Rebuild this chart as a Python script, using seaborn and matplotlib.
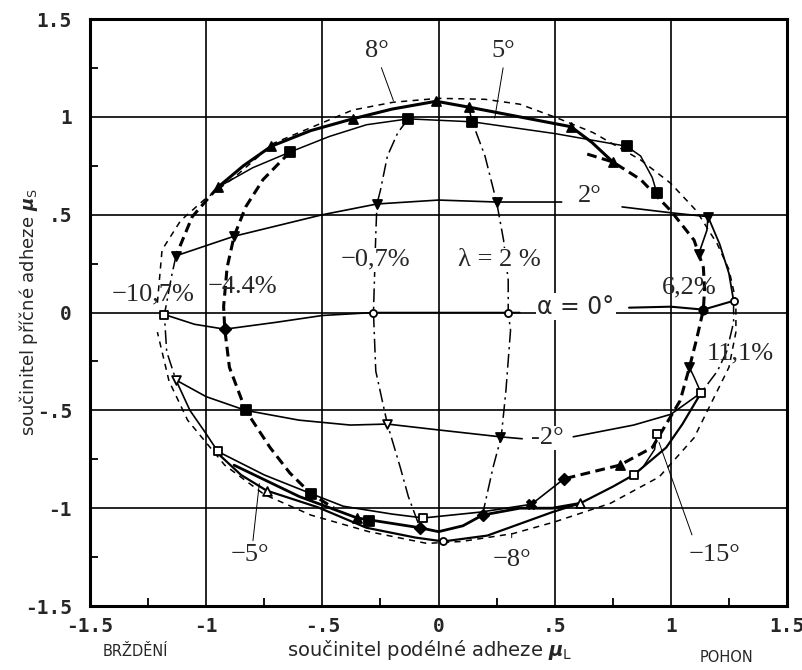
import matplotlib
matplotlib.use("Agg")
import matplotlib.pyplot as plt
import seaborn as sns

# ---------------------------------------------------------------
# Adhesion envelope (thin dashed)
env_x = [-1.21, -1.19, -1.11, -1.01, -0.88, -0.71, -0.52, -0.37, -0.195, 0.0, 0.2, 0.35,
         0.51, 0.665, 0.87, 1.0, 1.11, 1.2, 1.25, 1.28, 1.28, 1.25, 1.2, 1.10, 0.95, 0.74,
         0.5, 0.32, 0.1, -0.05, -0.3, -0.55, -0.75, -0.92, -1.08, -1.16, -1.21]
env_y = [0.05, 0.32, 0.47, 0.575, 0.69, 0.865, 0.96, 1.035, 1.075, 1.095, 1.09, 1.065,
         0.995, 0.92, 0.78, 0.66, 0.52, 0.35, 0.22, 0.06, -0.1, -0.28, -0.4, -0.64, -0.84,
         -0.975, -1.07, -1.13, -1.17, -1.18, -1.12, -1.035, -0.93, -0.78, -0.55, -0.35, -0.1]

# Constant slip angle curves
a8_x = [-0.95, -0.84, -0.72, -0.55, -0.37, -0.20, -0.01, 0.13, 0.35, 0.57, 0.66, 0.75]
a8_y = [0.64, 0.75, 0.85, 0.93, 0.99, 1.04, 1.08, 1.05, 1.00, 0.95, 0.87, 0.77]
a5_x = [-0.95, -0.80, -0.64, -0.47, -0.31, -0.13, 0.145, 0.50, 0.81, 0.87, 0.92, 0.94]
a5_y = [0.64, 0.74, 0.82, 0.90, 0.96, 0.99, 0.975, 0.915, 0.85, 0.80, 0.69, 0.61]
a2l_x = [-1.13, -0.88, -0.50, -0.265, 0.0, 0.25, 0.53]
a2l_y = [0.29, 0.39, 0.50, 0.555, 0.575, 0.565, 0.565]
a2r_x = [0.79, 1.0, 1.16, 1.155, 1.12]
a2r_y = [0.54, 0.51, 0.49, 0.42, 0.30]
a0l_x = [-1.18, -1.05, -0.92, -0.70, -0.50, -0.28, 0.0, 0.30, 0.35]
a0l_y = [-0.01, -0.06, -0.085, -0.05, -0.015, 0.0, 0.0, 0.0, 0.0]
a0r_x = [0.82, 1.0, 1.14, 1.27]
a0r_y = [0.025, 0.03, 0.015, 0.06]
am2l_x = [-1.13, -1.0, -0.83, -0.60, -0.38, -0.22, 0.0, 0.265, 0.36]
am2l_y = [-0.345, -0.43, -0.50, -0.55, -0.575, -0.57, -0.60, -0.635, -0.645]
am2r_x = [0.58, 0.84, 1.0, 1.13]
am2r_y = [-0.635, -0.575, -0.52, -0.41]
am5_x = [-0.95, -0.75, -0.55, -0.41, -0.20, -0.065, 0.18, 0.40, 0.54]
am5_y = [-0.71, -0.83, -0.925, -0.99, -1.03, -1.05, -1.02, -0.98, -0.85]
amid_x = [-0.88, -0.60, -0.35, -0.08, 0.0, 0.105, 0.19, 0.35, 0.49, 0.61]
amid_y = [-0.78, -0.94, -1.05, -1.10, -1.12, -1.09, -1.035, -1.0, -1.0, -0.975]
am8_x = [-0.95, -0.85, -0.74, -0.52, -0.31, -0.10, 0.02, 0.21, 0.49, 0.61, 0.75, 0.84,
         0.98, 1.05, 1.13]
am8_y = [-0.72, -0.83, -0.91, -0.995, -1.10, -1.15, -1.17, -1.14, -1.02, -0.975, -0.89,
         -0.83, -0.69, -0.57, -0.41]
am15_x = [0.94, 0.93, 0.88, 0.84]
am15_y = [-0.62, -0.70, -0.79, -0.83]

# Constant longitudinal slip curves
l107u_x = [-0.95, -1.06, -1.13]
l107u_y = [0.64, 0.49, 0.29]
l107m_x = [-1.13, -1.15, -1.17, -1.18, -1.17, -1.13]
l107m_y = [0.29, 0.18, 0.05, -0.01, -0.20, -0.345]
l107d_x = [-1.13, -1.07, -1.0, -0.95]
l107d_y = [-0.345, -0.50, -0.62, -0.71]
l44_x = [-0.64, -0.755, -0.83, -0.88, -0.91, -0.925, -0.92, -0.90, -0.83, -0.725, -0.64,
         -0.55, -0.45]
l44_y = [0.82, 0.68, 0.54, 0.39, 0.23, 0.03, -0.085, -0.28, -0.50, -0.69, -0.82, -0.925, -1.0]
l07_x = [-0.13, -0.175, -0.22, -0.25, -0.265, -0.27, -0.275, -0.28, -0.27, -0.22, -0.165,
         -0.13, -0.08]
l07_y = [0.99, 0.92, 0.80, 0.625, 0.555, 0.40, 0.20, 0.0, -0.30, -0.57, -0.79, -0.94, -1.10]
l2_x = [0.13, 0.145, 0.20, 0.25, 0.28, 0.30, 0.30, 0.31, 0.29, 0.27, 0.235, 0.19]
l2_y = [1.05, 0.975, 0.80, 0.565, 0.37, 0.165, 0.0, -0.09, -0.40, -0.635, -0.79, -1.03]
l62_x = [0.64, 0.75, 0.87, 1.0, 1.10, 1.12, 1.14, 1.145, 1.14, 1.11, 1.08, 1.04, 0.92,
         0.78, 0.54]
l62_y = [0.81, 0.77, 0.68, 0.52, 0.37, 0.30, 0.23, 0.12, 0.015, -0.14, -0.28, -0.45, -0.69,
         -0.78, -0.85]
l111u_x = [1.16, 1.21, 1.25, 1.27]
l111u_y = [0.49, 0.35, 0.20, 0.06]
l111d_x = [1.27, 1.27, 1.24, 1.20, 1.13]
l111d_y = [0.06, -0.05, -0.20, -0.30, -0.41]
ret_x = [1.13, 1.10, 1.08]
ret_y = [-0.41, -0.33, -0.28]

# Measured points by marker type
up_x = [-0.95, -0.72, -0.37, -0.01, 0.13, 0.57, 0.75, 0.78, -0.35]
up_y = [0.64, 0.85, 0.99, 1.08, 1.05, 0.95, 0.77, -0.78, -1.05]
sq_x = [-0.64, -0.13, 0.145, 0.81, 0.94, -0.83, -0.55, -0.30]
sq_y = [0.82, 0.99, 0.975, 0.85, 0.61, -0.50, -0.925, -1.065]
dn_x = [-1.13, -0.88, -0.265, 0.25, 1.16, 1.12, 0.265, 1.08]
dn_y = [0.29, 0.39, 0.555, 0.565, 0.49, 0.30, -0.635, -0.28]
dm_x = [-0.92, 0.54, -0.08, 0.19]
dm_y = [-0.085, -0.85, -1.10, -1.035]
ci_x = [1.14]
ci_y = [0.015]
osq_x = [-1.18, -0.95, -0.065, 0.84, 0.94, 1.13]
osq_y = [-0.01, -0.71, -1.05, -0.83, -0.62, -0.41]
oci_x = [-0.28, 0.30, 0.02, 1.27]
oci_y = [0.0, 0.0, -1.17, 0.06]
odn_x = [-1.13, -0.22]
odn_y = [-0.345, -0.57]
oup_x = [-0.74, 0.61]
oup_y = [-0.91, -0.975]
cr_x = [0.40]
cr_y = [-0.98]

ticks = [-1.5, -1.0, -0.5, 0.0, 0.5, 1.0, 1.5]
tick_labels = ["-1.5", "-1", "-.5", "0", ".5", "1", "1.5"]
minor = [-1.25, -0.75, -0.25, 0.25, 0.75, 1.25]

# ---------------------------------------------------------------
sns.set_theme(style="white")
plt.rcParams["font.family"] = ["DejaVu Sans"]

fig = plt.figure(figsize=(8.03, 6.70), dpi=100)
ax = fig.add_axes([0.1121, 0.0955, 0.868, 0.876])
ax.set_xlim(-1.5, 1.5)
ax.set_ylim(-1.5, 1.5)

THIN_DASH = (0, (4, 3.5))
LONG_DASH = (0, (3.2, 1.8))
DASH_DOT = (0, (9, 3, 1.5, 3))


def curve(x, y, lw=1.1, ls="-", z=3):
    sns.lineplot(x=x, y=y, sort=False, estimator=None, ax=ax, color="black",
                 linewidth=lw, linestyle=ls, zorder=z)


curve(env_x, env_y, 1.1, THIN_DASH)
curve(a8_x, a8_y, 2.2)
curve(a5_x, a5_y, 1.1)
curve(a2l_x, a2l_y, 1.2)
curve(a2r_x, a2r_y, 1.2)
curve(a0l_x, a0l_y, 1.2)
curve(a0r_x, a0r_y, 1.5)
curve(am2l_x, am2l_y, 1.2)
curve(am2r_x, am2r_y, 1.2)
curve(am5_x, am5_y, 1.2)
curve(amid_x, amid_y, 2.0)
curve(am8_x, am8_y, 1.6)
curve(am15_x, am15_y, 1.1)
curve(l107u_x, l107u_y, 2.2, LONG_DASH)
curve(l107m_x, l107m_y, 1.1, DASH_DOT)
curve(l107d_x, l107d_y, 1.2)
curve(l44_x, l44_y, 2.2, LONG_DASH)
curve(l07_x, l07_y, 1.1, DASH_DOT)
curve(l2_x, l2_y, 1.1, DASH_DOT)
curve(l62_x, l62_y, 2.2, LONG_DASH)
curve(l111u_x, l111u_y, 1.3)
curve(l111d_x, l111d_y, 1.1, DASH_DOT)
curve(ret_x, ret_y, 1.1)


def points(x, y, marker, filled=True, s=42):
    sns.scatterplot(x=x, y=y, marker=marker, s=s, ax=ax, zorder=6,
                    color="black" if filled else "white", edgecolor="black",
                    linewidth=1.3)


points(up_x, up_y, "^")
points(sq_x, sq_y, "s", s=48)
points(dn_x, dn_y, "v")
points(dm_x, dm_y, "D", s=34)
points(ci_x, ci_y, "o", s=36)
points(osq_x, osq_y, "s", filled=False, s=34)
points(oci_x, oci_y, "o", filled=False, s=26)
points(odn_x, odn_y, "v", filled=False, s=40)
points(oup_x, oup_y, "^", filled=False, s=40)
points(cr_x, cr_y, "X", s=44)

# leader lines for the angle labels
for (x0, y0), (x1, y1) in [((-0.25, 1.265), (-0.19, 1.07)),
                           ((0.28, 1.265), (0.24, 0.98)),
                           ((-0.80, -1.18), (-0.77, -0.86)),
                           ((1.095, -1.15), (0.945, -0.65)),
                           ((0.315, -1.115), (0.315, -1.165))]:
    ax.annotate("", xy=(x1, y1), xytext=(x0, y0),
                arrowprops=dict(arrowstyle="-", lw=0.7, color="black"), zorder=4)

serif = ["Liberation Serif", "DejaVu Serif"]
box = dict(facecolor="white", edgecolor="none", pad=0.6)
labels = [("8°", -0.265, 1.335, False), ("5°", 0.28, 1.335, False),
          ("2°", 0.65, 0.595, True), ("−0,7%", -0.27, 0.27, True),
          ("λ = 2 %", 0.26, 0.27, True), ("−10,7%", -1.23, 0.09, False),
          ("−4.4%", -0.845, 0.13, False), ("6,2%", 1.08, 0.13, False),
          ("11,1%", 1.30, -0.21, False), ("-2°", 0.47, -0.64, True),
          ("−5°", -0.81, -1.24, False), ("−8°", 0.315, -1.265, False),
          ("−15°", 1.19, -1.24, False)]
for txt, x, y, boxed in labels:
    ax.text(x, y, txt, ha="center", va="center", fontsize=19, family=serif,
            zorder=7, bbox=box if boxed else None)
ax.text(0.59, 0.03, "α = 0°", ha="center", va="center", fontsize=17,
        zorder=7, bbox=dict(facecolor="white", edgecolor="none", pad=1.0))

# axes frame, grid and ticks
ax.set_xticks(ticks)
ax.set_yticks(ticks)
ax.set_xticklabels(tick_labels)
ax.set_yticklabels(tick_labels)
ax.set_xticks(minor, minor=True)
ax.set_yticks(minor, minor=True)
ax.grid(True, which="major", color="black", linewidth=1.2)
ax.set_axisbelow(True)
ax.tick_params(which="major", length=0)
ax.tick_params(axis="x", which="major", pad=8)
ax.tick_params(axis="y", which="major", pad=13)
ax.tick_params(which="minor", direction="in", length=6, width=1.3, color="black",
               left=True, bottom=True)
for lbl in ax.get_xticklabels() + ax.get_yticklabels():
    lbl.set_fontfamily("DejaVu Sans Mono")
    lbl.set_fontweight("bold")
    lbl.set_fontsize(14)
for sp in ax.spines.values():
    sp.set_color("black")
    sp.set_linewidth(2.2)

ax.set_xlabel(r"součinitel podélné adheze $\boldsymbol{\mu}_{\mathsf{L}}$", fontsize=14,
              va="center")
ax.set_ylabel(r"součinitel příčné adheze $\boldsymbol{\mu}_{\mathsf{S}}$", fontsize=13,
              va="center")
ax.xaxis.set_label_coords(0.488, -0.075)
ax.yaxis.set_label_coords(-0.088, 0.5)

fig.text(135 / 803, 1 - 652 / 670, "BRŽDĚNÍ", ha="center", va="center", fontsize=10.5)
fig.text(727 / 803, 1 - 657 / 670, "POHON", ha="center", va="center", fontsize=10.5)

fig.savefig("out.png", dpi=100, facecolor="white")
